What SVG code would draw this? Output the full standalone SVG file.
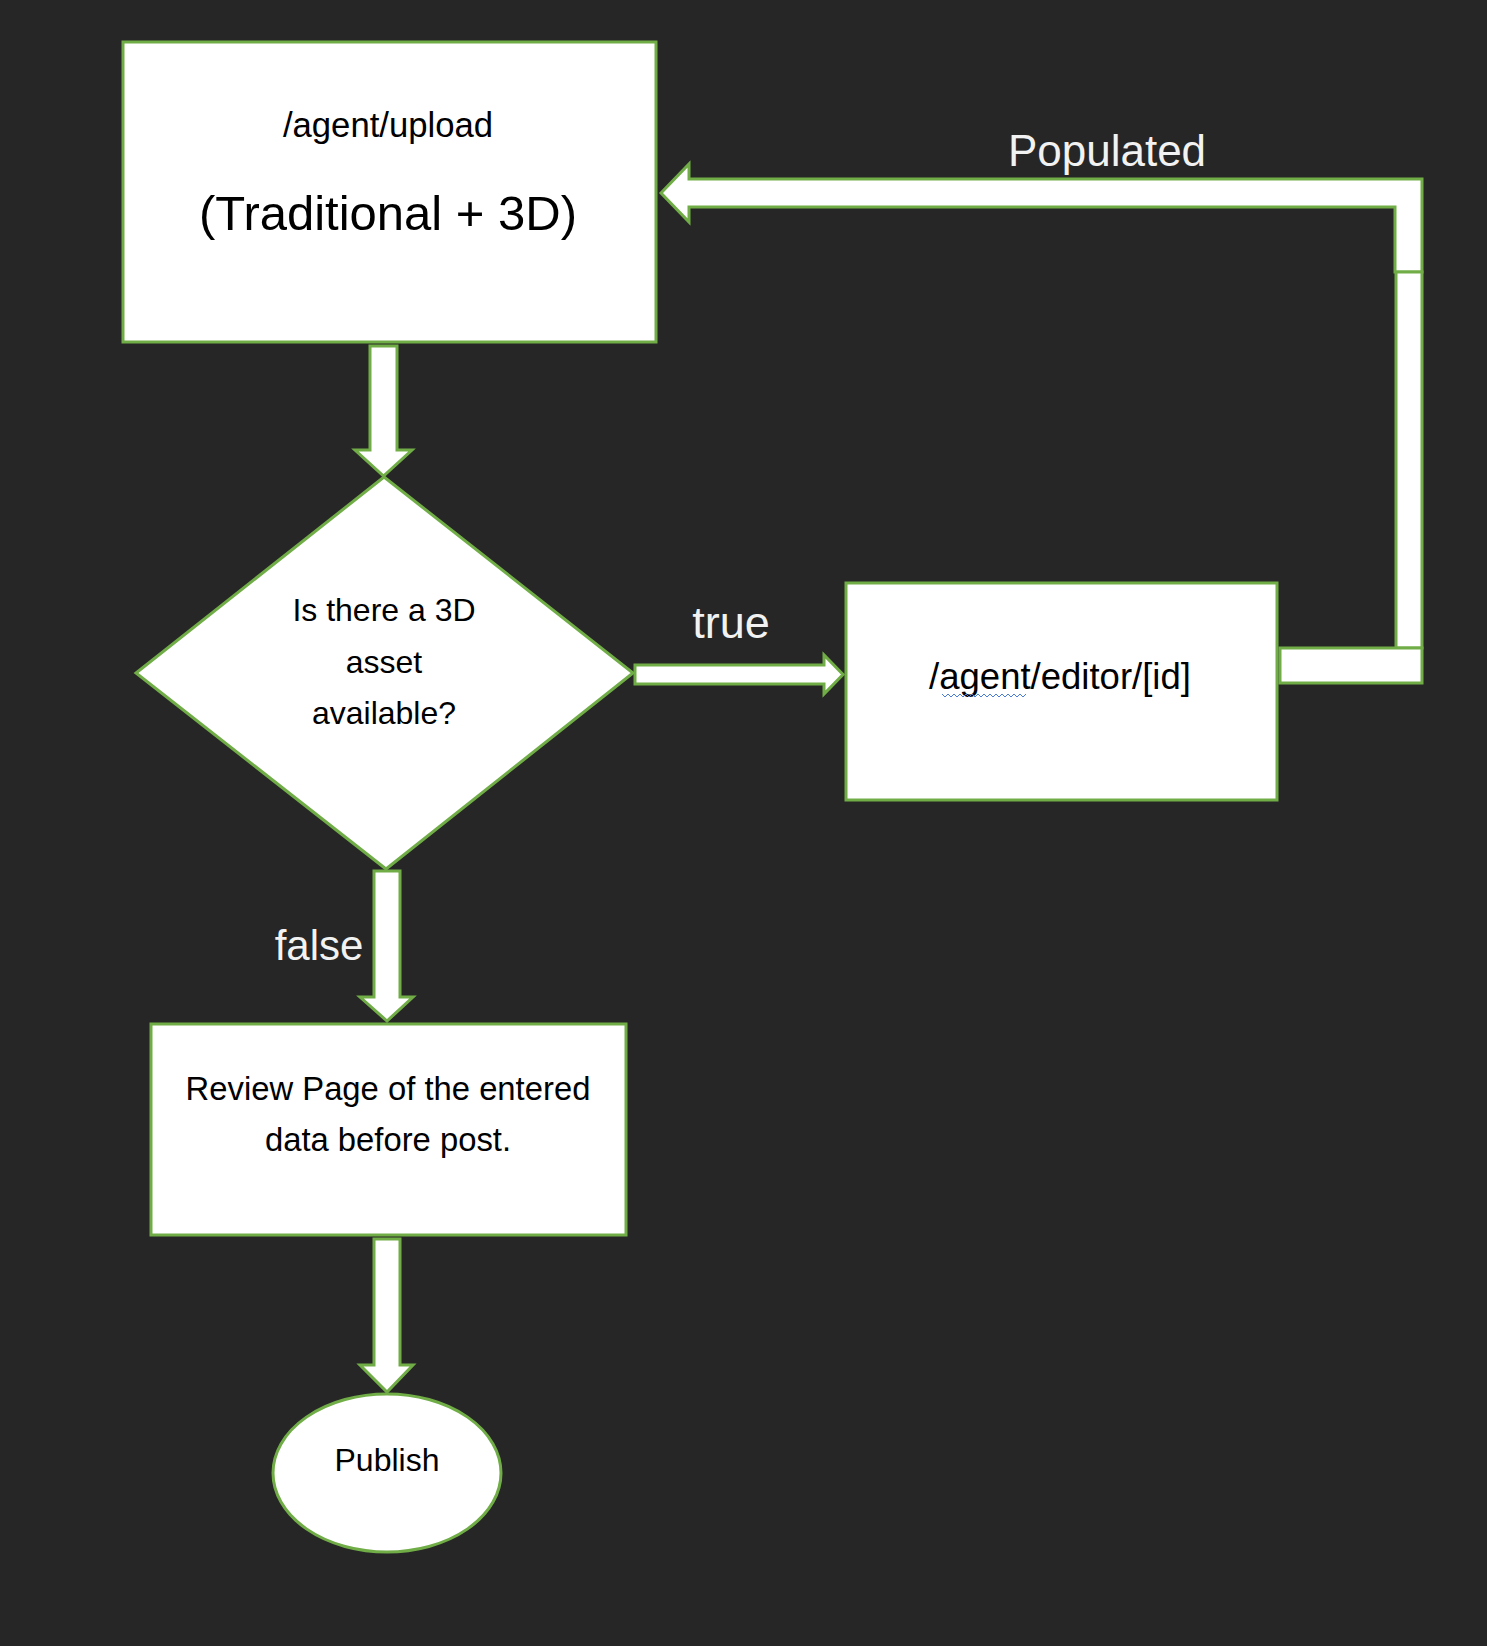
<svg xmlns="http://www.w3.org/2000/svg" width="1487" height="1646" viewBox="0 0 1487 1646">
<style>
.shape{fill:#ffffff;stroke:#70AD47;stroke-width:3}
.conn{fill:#ffffff;stroke:#70AD47;stroke-width:3;stroke-linejoin:miter}
.t{font-family:"Liberation Sans",Arial,sans-serif;fill:#000000;text-anchor:middle}
.lbl{font-family:"Liberation Sans",Arial,sans-serif;fill:#f2f2f2;text-anchor:middle}
</style>
<rect x="0" y="0" width="1487" height="1646" fill="#262626"/>
<g id="connectors">
  <path class="conn" d="M370,346 H397 V450 H412 L383.5,476 L355,450 H370 Z"/>
  <path class="conn" d="M635,665 H824 V655 L843,674.5 L824,694 V684 H635 Z"/>
  <path class="conn" d="M661,193 L689,164 V179 H1422 V272 H1395 V207 H689 V222 Z"/>
  <rect class="conn" x="1396" y="272" width="26" height="376"/>
  <rect class="conn" x="1280" y="648" width="142" height="35"/>
  <path class="conn" d="M374,871 H400 V997 H413 L387,1021 L360,997 H374 Z"/>
  <path class="conn" d="M374,1239 H400 V1365 H413 L387,1392 L360,1365 H374 Z"/>
  <text class="lbl" x="1107" y="166" font-size="44">Populated</text>
  <text class="lbl" x="731" y="638" font-size="45">true</text>
  <text class="lbl" x="319" y="960" font-size="42">false</text>
</g>
<g id="node-upload">
  <rect class="shape" x="123" y="42" width="533" height="300"/>
  <text class="t" x="388" y="137" font-size="34.7">/agent/upload</text>
  <text class="t" x="388" y="230" font-size="49">(Traditional + 3D)</text>
</g>
<g id="node-decision">
  <polygon class="shape" points="384,477 633,673 386,869 136,673"/>
  <text class="t" x="384" y="621" font-size="32">Is there a 3D</text>
  <text class="t" x="384" y="673" font-size="32">asset</text>
  <text class="t" x="384" y="724" font-size="32">available?</text>
</g>
<g id="node-editor">
  <rect class="shape" x="846" y="583" width="431" height="217"/>
  <text class="t" x="1060" y="689" font-size="36.5">/agent/editor/[id]</text>
  <polyline points="942,694 945,697 948,694 951,697 954,694 957,697 960,694 963,697 966,694 969,697 972,694 975,697 978,694 981,697 984,694 987,697 990,694 993,697 996,694 999,697 1002,694 1005,697 1008,694 1011,697 1014,694 1017,697 1020,694 1023,697 1026,694" fill="none" stroke="#4a7bd6" stroke-width="1"/>
</g>
<g id="node-review">
  <rect class="shape" x="151" y="1024" width="475" height="211"/>
  <text class="t" x="388" y="1100" font-size="32.8">Review Page of the entered</text>
  <text class="t" x="388" y="1151" font-size="32.8">data before post.</text>
</g>
<g id="node-publish">
  <ellipse class="shape" cx="387" cy="1473" rx="114" ry="79"/>
  <text class="t" x="387" y="1471" font-size="32">Publish</text>
</g>
</svg>
